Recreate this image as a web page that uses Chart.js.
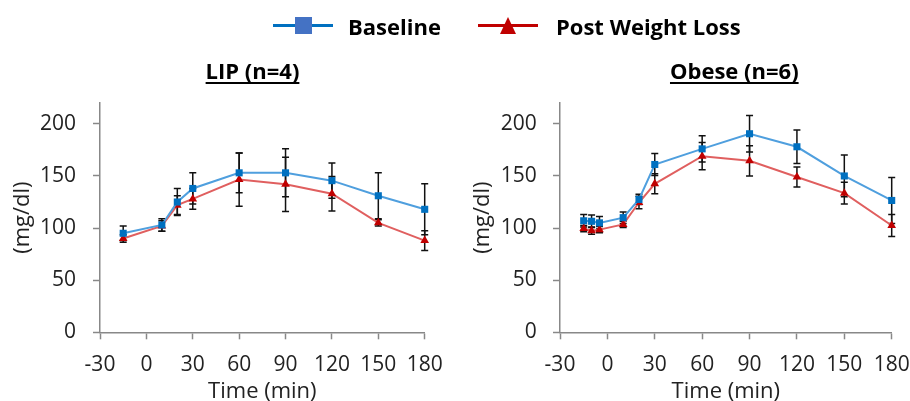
<!DOCTYPE html>
<html><head><meta charset="utf-8">
<script src="https://cdn.jsdelivr.net/npm/chart.js@4.4.1/dist/chart.umd.min.js"></script>
<style>
html,body{margin:0;padding:0;background:#fff;overflow:hidden;width:910px;height:401px;}
#wrap{position:relative;width:910px;height:401px;overflow:hidden;font-family:"Open Sans",sans-serif;color:#000;}
canvas{position:absolute;top:0;}
.leg{position:absolute;font-weight:bold;font-size:22px;line-height:22px;white-space:nowrap;}
.ttl{position:absolute;width:300px;text-align:center;font-weight:bold;font-size:22px;line-height:22px;white-space:nowrap;}
.ttl span{text-decoration:underline;text-decoration-thickness:2px;text-underline-offset:3px;}
.ln{position:absolute;height:3px;}
</style></head>
<body><div id="wrap">
<canvas id="c1" width="455" height="420" style="left:0"></canvas>
<canvas id="c2" width="455" height="420" style="left:455px"></canvas>
<div class="ln" style="left:273px;top:23.5px;width:60px;background:#0070C0"></div>
<div style="position:absolute;left:295px;top:17.3px;width:17px;height:17px;background:#4472C4"></div>
<div class="leg" style="left:348px;top:14.5px">Baseline</div>
<div class="ln" style="left:478px;top:23.5px;width:60px;background:#C00000"></div>
<div style="position:absolute;left:499.5px;top:17.3px;width:0;height:0;border-left:8.5px solid transparent;border-right:8.5px solid transparent;border-bottom:17px solid #C00000"></div>
<div class="leg" style="left:556px;top:14.5px">Post Weight Loss</div>
<div class="ttl" style="left:102.5px;top:59px"><span>LIP (n=4)</span></div>
<div class="ttl" style="left:584.3px;top:59px"><span>Obese (n=6)</span></div>
</div>
<script>
// LIP (n=4)
const lipTime = [-15, 10, 20, 30, 60, 90, 120, 150, 180];
const lipBaseline = [95, 103, 125, 138, 153, 153, 145.5, 131, 118];
const lipBaselineErr = [7, 6, 13, 15, 19, 23, 17, 22, 24.5];
const lipPost = [90, 102, 122, 128, 146.5, 142, 133, 105, 88];
const lipPostErr = [3.5, 5, 9, 10, 25.5, 26, 16.5, 3, 9.5];

// Obese (n=6)
const obeseTime = [-15, -10, -5, 10, 20, 30, 60, 90, 120, 150, 180];
const obeseBaseline = [107, 106.5, 105, 110, 127.5, 161, 176, 190.5, 178, 150, 126.5];
const obeseBaselineErr = [6, 6, 6, 5.5, 5, 10.5, 12.5, 17.5, 16, 20, 22];
const obesePost = [99.5, 97.5, 98.5, 103.5, 124.5, 142.5, 169, 164.5, 149, 133.5, 102.5];
const obesePostErr = [3, 3.5, 3, 3, 6, 9.5, 13, 14.5, 9.5, 10.5, 10.5];

const seriesNames = ['Baseline', 'Post Weight Loss'];
const xTickValues = [-30, 0, 30, 60, 90, 120, 150, 180];
const yTickValues = [0, 50, 100, 150, 200];
const yAxisMax = 220;

Chart.defaults.font.family = "'Open Sans', sans-serif";
Chart.defaults.color = '#222';

const errorBars = {
  id: 'errorBars',
  beforeDatasetsDraw(chart) {
    const {ctx, scales: {x, y}} = chart;
    ctx.save();
    ctx.strokeStyle = '#111';
    ctx.lineWidth = 1.5;
    chart.data.datasets.forEach(ds => {
      const errs = ds.errors;
      if (!errs) return;
      ds.data.forEach((p, i) => {
        const px = x.getPixelForValue(p.x);
        const top = y.getPixelForValue(p.y + errs[i]);
        const bot = y.getPixelForValue(p.y - errs[i]);
        ctx.beginPath();
        ctx.moveTo(px, top); ctx.lineTo(px, bot);
        ctx.moveTo(px - 3.5, top); ctx.lineTo(px + 3.5, top);
        ctx.moveTo(px - 3.5, bot); ctx.lineTo(px + 3.5, bot);
        ctx.stroke();
      });
    });
    ctx.restore();
  }
};

function pts(t, v) { return t.map((x, i) => ({x: x, y: v[i]})); }

function makeChart(id, times, base, baseErr, post, postErr, cfg) {
  return new Chart(document.getElementById(id), {
    type: 'line',
    data: {
      datasets: [
        {label: seriesNames[0], data: pts(times, base), errors: baseErr,
         borderColor: '#4F9FDE', borderWidth: 2, tension: 0,
         pointStyle: 'rect', pointRadius: 5, pointBackgroundColor: '#0070C0',
         pointBorderColor: '#0070C0', pointBorderWidth: 0, clip: false},
        {label: seriesNames[1], data: pts(times, post), errors: postErr,
         borderColor: '#E05F5F', borderWidth: 2, tension: 0,
         pointStyle: 'triangle', pointRadius: 5, pointBackgroundColor: '#C00000',
         pointBorderColor: '#C00000', pointBorderWidth: 0, clip: false}
      ]
    },
    options: {
      responsive: false,
      animation: false,
      events: [],
      layout: {padding: {top: 103, left: 0, bottom: 0, right: cfg.padRight}},
      plugins: {legend: {display: false}, tooltip: {enabled: false}, title: {display: false}},
      scales: {
        x: {
          type: 'linear', min: xTickValues[0], max: xTickValues[xTickValues.length - 1],
          ticks: {font: {size: 21}, color: '#222', padding: 13, maxRotation: 0, autoSkip: false},
          afterBuildTicks: s => { s.ticks = xTickValues.map(v => ({value: v})); },
          grid: {display: true, drawOnChartArea: false, drawTicks: true, tickLength: 7, color: '#888', tickWidth: 1.5},
          border: {display: true, color: '#888', width: 1.5},
          title: {display: true, text: 'Time (min)', font: {size: 22}, color: '#222', padding: {top: 0, bottom: 14.8}},
          afterFit: s => { s.height = 87.7; s.paddingLeft = 0; s.paddingRight = 0; }
        },
        y: {
          type: 'linear', min: 0, max: yAxisMax,
          ticks: {font: {size: 21}, color: '#222', padding: cfg.yTickPad, autoSkip: false},
          afterBuildTicks: s => { s.ticks = yTickValues.map(v => ({value: v})); },
          grid: {display: true, drawOnChartArea: false, drawTicks: true, tickLength: 7, color: '#888', tickWidth: 1.5},
          border: {display: true, color: '#888', width: 1.5},
          title: {display: true, text: '(mg/dl)', font: {size: 22}, color: '#222', padding: {top: cfg.yTitlePad, bottom: 0}},
          afterFit: s => { s.width = cfg.yWidth; s.paddingTop = 0; s.paddingBottom = 0; }
        }
      }
    },
    plugins: [errorBars]
  });
}

makeChart('c1', lipTime, lipBaseline, lipBaselineErr, lipPost, lipPostErr,
  {yWidth: 100, yTitlePad: 9.8, yTickPad: 17, padRight: 30.3});
makeChart('c2', obeseTime, obeseBaseline, obeseBaselineErr, obesePost, obesePostErr,
  {yWidth: 105, yTitlePad: 14.3, yTickPad: 16.3, padRight: 18.3});
</script>
</body></html>
